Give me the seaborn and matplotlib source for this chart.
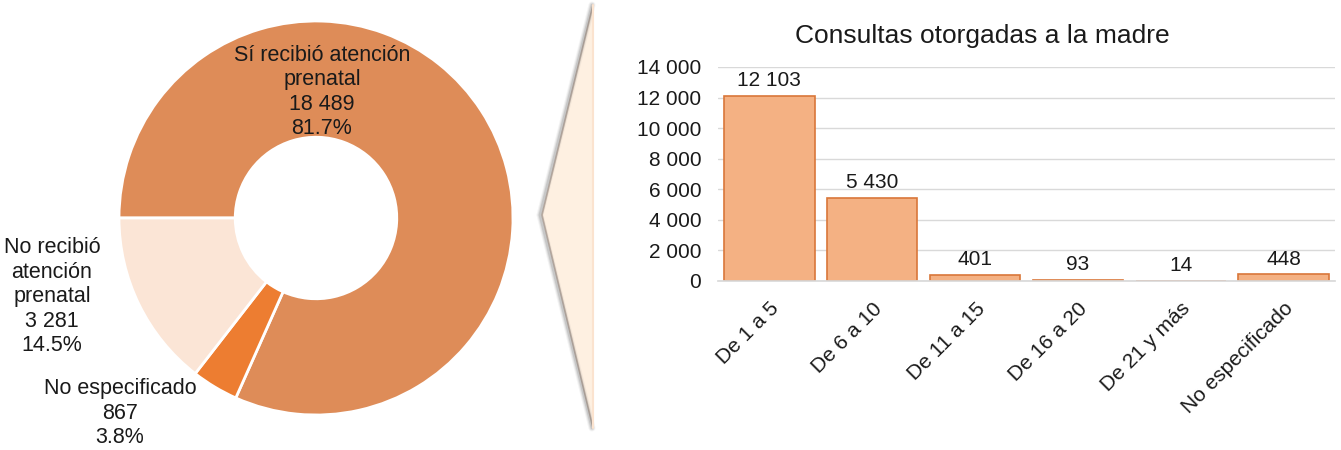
import matplotlib
matplotlib.use("Agg")
import matplotlib.pyplot as plt
import seaborn as sns
import numpy as np
from matplotlib.patches import Polygon

# ---- data ----
donut_labels = ["Sí recibió atención\nprenatal", "No especificado", "No recibió\natención\nprenatal"]
donut_values = [18489, 867, 3281]
donut_colors = ["#DE8C58", "#ED7D31", "#FBE5D6"]

bar_categories = ["De 1 a 5", "De 6 a 10", "De 11 a 15", "De 16 a 20", "De 21 y más", "No especificado"]
bar_values = [12103, 5430, 401, 93, 14, 448]
bar_title = "Consultas otorgadas a la madre"
y_ticks = [0, 2000, 4000, 6000, 8000, 10000, 12000, 14000]

sns.set_theme(style="white")
plt.rcParams["font.family"] = ["Liberation Sans", "DejaVu Sans"]

W, H = 1341, 450
fig = plt.figure(figsize=(W / 100, H / 100), dpi=100)

def fmt(v):
    return f"{v:,}".replace(",", " ")

# ---- connector shape (decoration) ----
bg = fig.add_axes([0, 0, 1, 1])
bg.set_xlim(0, W)
bg.set_ylim(H, 0)
bg.axis("off")
for off, a in [(5, 0.08), (3.5, 0.14), (2, 0.22)]:
    bg.plot([592, 540, 592], [5, 215, 428], color="#6f6f6f", lw=off, alpha=a,
            solid_joinstyle="miter")
bg.add_patch(Polygon([[593, 5], [542, 215], [593, 428]], closed=True,
                     facecolor="#FEF0E1", edgecolor="#C9B8AC", lw=1.2))
bg.plot([593, 593], [5, 428], color="#FBE3CF", lw=1.5)

# ---- donut ----
cx, cy, r = 316, 218, 197
axd = fig.add_axes([(cx - r) / W, (H - cy - r) / H, 2 * r / W, 2 * r / H])
wedges, _ = axd.pie(donut_values, colors=donut_colors, startangle=180, counterclock=False,
                    radius=1, wedgeprops=dict(width=0.59, edgecolor="white", linewidth=2))
axd.set_xlim(-1, 1)
axd.set_ylim(-1, 1)
total = sum(donut_values)
label_pos = [(0.03, 0.64), (-0.995, -0.99), (-1.34, -0.40)]
for lab, v, (x, y) in zip(donut_labels, donut_values, label_pos):
    axd.text(x, y, f"{lab}\n{fmt(v)}\n{v / total * 100:.1f}%", ha="center", va="center",
             fontsize=15.5, color="#1a1a1a", linespacing=1.22, clip_on=False)

# ---- bar chart ----
axb = fig.add_axes([718 / W, (H - 281) / H, (1335 - 718) / W, (281 - 67) / H])
sns.barplot(x=bar_categories, y=bar_values, color="#F4B183", edgecolor="#D9773A",
            linewidth=1.2, width=0.88, saturation=1, ax=axb)
axb.set_ylim(0, 14000)
axb.set_yticks(y_ticks)
axb.set_yticklabels([fmt(t) for t in y_ticks])
axb.yaxis.grid(True, color="#D9D9D9", lw=1)
axb.set_axisbelow(True)
for s in ["top", "right", "left"]:
    axb.spines[s].set_visible(False)
axb.spines["bottom"].set_color("#D9D9D9")
axb.tick_params(axis="both", length=0, labelsize=15, colors="#1a1a1a")
axb.tick_params(axis="y", pad=12)
axb.tick_params(axis="x", pad=13)
plt.setp(axb.get_xticklabels(), rotation=45, ha="right", rotation_mode="anchor")
axb.bar_label(axb.containers[0], labels=[fmt(v) for v in bar_values], padding=4,
              fontsize=15, color="#1a1a1a")
axb.set_xlabel("")
axb.set_ylabel("")
axb.set_title(bar_title, fontsize=19, color="#1a1a1a", x=0.428, pad=17)

fig.savefig("out.png", dpi=100, facecolor="white")
